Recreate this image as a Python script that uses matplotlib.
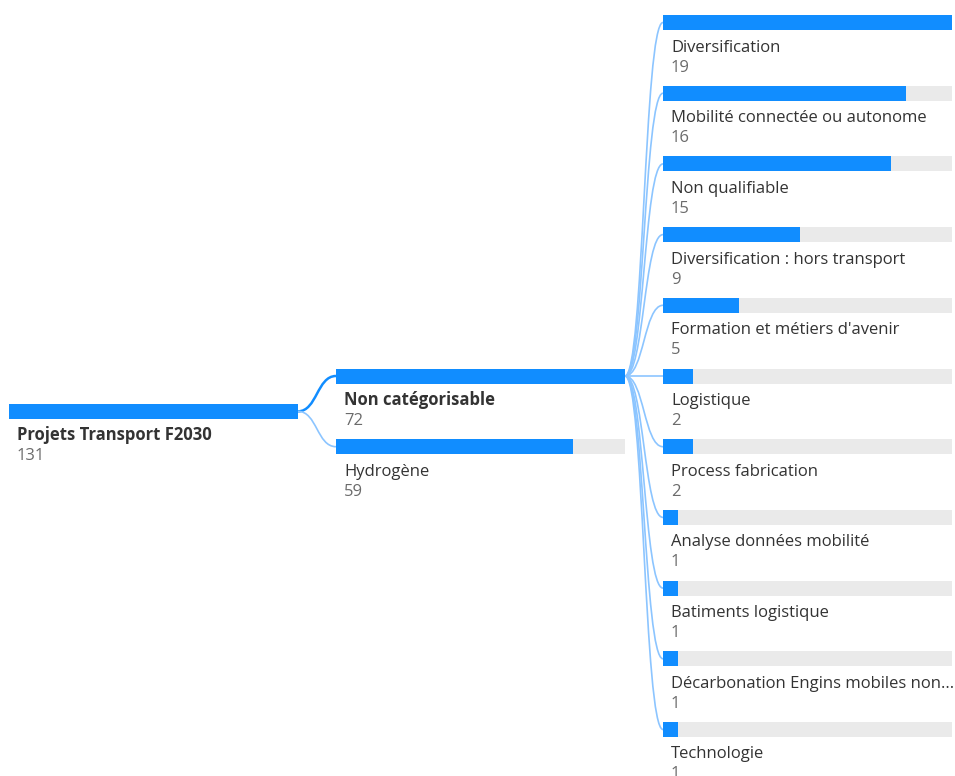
import numpy as np
import matplotlib
matplotlib.use("Agg")
from matplotlib import pyplot as plt
from matplotlib.path import Path
from matplotlib.patches import PathPatch

plt.rcParams['font.family'] = ['Open Sans', 'DejaVu Sans']

# data
root_label = "Projets Transport F2030"
root_value = 131
level2_labels = ["Non catégorisable", "Hydrogène"]
level2_values = [72, 59]
level3_labels = ["Diversification", "Mobilité connectée ou autonome", "Non qualifiable",
                 "Diversification : hors transport", "Formation et métiers d'avenir",
                 "Logistique", "Process fabrication", "Analyse données mobilité",
                 "Batiments logistique", "Décarbonation Engins mobiles non...", "Technologie"]
level3_values = [19, 16, 15, 9, 5, 2, 2, 1, 1, 1, 1]

blue = "#118DFF"
light = "#8CC5FF"
grey_bg = "#EAEAEA"
name_col = "#333333"
val_col = "#6B6B6B"

W, H = 955, 776
fig = plt.figure(figsize=(W / 100, H / 100), dpi=100)
ax = fig.add_axes([0, 0, 1, 1])
ax.set_xlim(0, W)
ax.set_ylim(H, 0)
ax.axis("off")

bar_len = 289
bar_h = 15
col_x = [9, 336, 663]
step = 70.7
top3 = 22.5
y3 = top3 + step * np.arange(len(level3_values))
y2 = y3.mean() + step * np.arange(len(level2_values))
y1 = np.array([y2.mean()])


def column(x0, ys, values, labels, bold_idx=None):
    values = np.asarray(values, dtype=float)
    ax.barh(ys, bar_len, left=x0, height=bar_h, color=grey_bg, zorder=1)
    ax.barh(ys, values / values.max() * bar_len, left=x0, height=bar_h, color=blue, zorder=2)
    for i, (y, v, lab) in enumerate(zip(ys, values, labels)):
        bold = (i == bold_idx)
        ax.text(x0 + 8, y + 29, lab, fontsize=12, color=name_col, va="baseline",
                fontweight="bold" if bold else "normal")
        ax.text(x0 + 8, y + 49, str(int(v)), fontsize=12, color=val_col, va="baseline")


def link(x0, ya, x1, yb, color, lw):
    mid = (x0 + x1) / 2
    p = Path([(x0, ya), (mid, ya), (mid, yb), (x1, yb)],
             [Path.MOVETO, Path.CURVE4, Path.CURVE4, Path.CURVE4])
    ax.add_patch(PathPatch(p, fill=False, edgecolor=color, lw=lw, zorder=0))


# connectors
for i, y in enumerate(y2):
    link(col_x[0] + bar_len, y1[0], col_x[1], y, blue if i == 0 else light, 1.8 if i == 0 else 1.2)
for y in y3:
    link(col_x[1] + bar_len, y2[0], col_x[2], y, light, 1.2)

column(col_x[0], y1, [root_value], [root_label], bold_idx=0)
column(col_x[1], y2, level2_values, level2_labels, bold_idx=0)
column(col_x[2], y3, level3_values, level3_labels)

fig.savefig("out.png", dpi=100)
